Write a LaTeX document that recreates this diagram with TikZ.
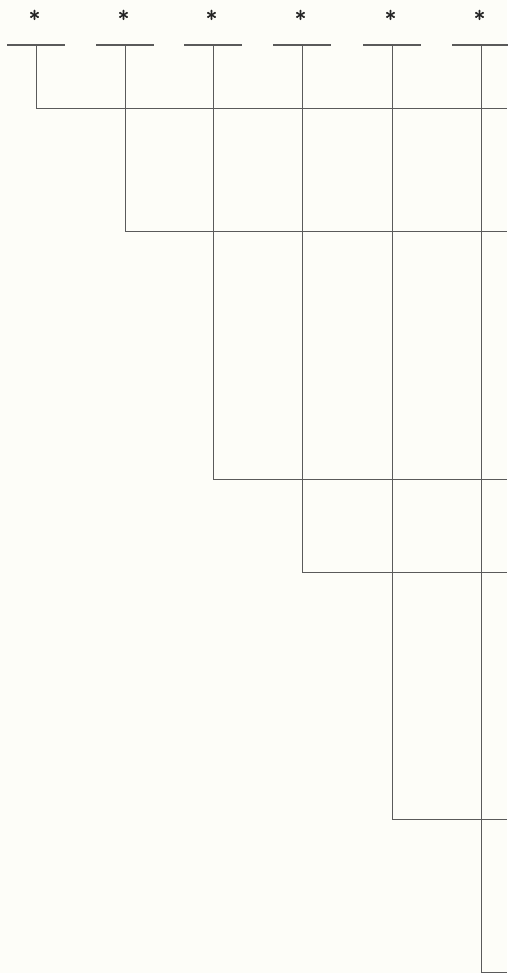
\documentclass[tikz,border=0pt]{standalone}
\usepackage{fontspec}
\usepackage{tikz}
\usetikzlibrary{positioning}
\newfontfamily\starfont{lmroman10-regular.otf}[FakeBold=3]
\definecolor{paperBg}{HTML}{FDFDF8}
\definecolor{lineGray}{HTML}{5A5A5A}

\begin{document}
\begin{tikzpicture}[
  x=1pt, y=-1pt,
  leaf/.style={inner sep=0pt, anchor=north, font=\starfont\fontsize{22}{22}\selectfont, text=black!85},
  tip/.style={draw=lineGray, line width=1.2pt},
  edge/.style={draw=lineGray, line width=0.9pt}
]
  \fill[paperBg] (0,0) rectangle (507,973);
  \useasboundingbox (0,0) rectangle (507,973);

  % taxa and their short bars
  \foreach \i/\x in {1/36, 2/125, 3/213, 4/302, 5/392, 6/481}{
    \node[leaf] (s\i) at (\x-1.5,10) {*};
    \coordinate (t\i) at (\x,45);
    \draw[tip] ([xshift=-29pt]t\i) -- ([xshift=29pt]t\i);
  }

  % joins to the right
  \foreach \i/\y in {1/108, 2/231, 3/479, 4/572, 5/819}{
    \coordinate (j\i) at (t\i |- 0,\y);
    \coordinate (r\i) at (507,\y);
    \draw[edge] (t\i) -- (j\i) -- (r\i);
  }
  \coordinate (j6) at (481,972);
  \coordinate (r6) at (507,972);
  \draw[edge] (t6) -- (j6) -- (r6);
\end{tikzpicture}
\end{document}
